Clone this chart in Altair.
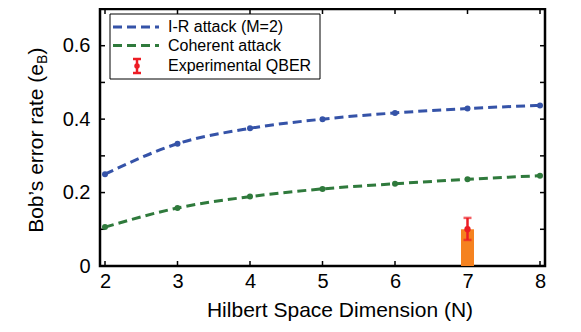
import altair as alt
import pandas as pd

# ---- data ----
N = [2, 3, 4, 5, 6, 7, 8]
ir_attack = [0.25, 0.333, 0.375, 0.400, 0.417, 0.429, 0.4375]
coherent = [0.106, 0.158, 0.189, 0.210, 0.224, 0.236, 0.246]
exp_N = [7]
exp_qber = [0.100]
exp_lo = [0.071]
exp_hi = [0.131]
x_ticks = [2, 3, 4, 5, 6, 7, 8]
y_ticks = [0.0, 0.1, 0.2, 0.3, 0.4, 0.5, 0.6, 0.7]
y_labels = [0.0, 0.2, 0.4, 0.6]
legend_labels = ["I-R attack (M=2)", "Coherent attack", "Experimental QBER"]
x_title = "Hilbert Space Dimension (N)"
y_title_main = "Bob\u2019s error rate (e"
y_title_sub = "B"
y_title_end = ")"

# ---- style ----
W, H = 445, 257
BLUE = "#3553a8"
GREEN = "#2f7a3c"
ORANGE = "#f58220"
RED = "#ed1c24"
FONT = "Liberation Sans"

xs = alt.Scale(domain=[2, 8], nice=False, zero=False)
ys = alt.Scale(domain=[0, 0.7], nice=False, zero=False)
XAX = alt.Axis(values=x_ticks, title=None, labelPadding=5, format="d")
YAX = alt.Axis(values=y_labels, title=None, labelPadding=10, format=".1~f")

ir_df = pd.DataFrame({"N": N, "e": ir_attack})
coh_df = pd.DataFrame({"N": N, "e": coherent})
exp_df = pd.DataFrame({"N": exp_N, "q": exp_qber, "lo": exp_lo, "hi": exp_hi})
xt_df = pd.DataFrame({"t": x_ticks})
yt_df = pd.DataFrame({"t": y_ticks})


def one(v):
    return pd.DataFrame({"v": [v]})


layers = []

# frame ticks (inside, on all four sides)
layers.append(alt.Chart(xt_df).mark_rule(color="black", strokeWidth=1.5).encode(
    x=alt.X("t:Q", scale=xs, axis=XAX), y=alt.value(H), y2=alt.value(H - 5)))
layers.append(alt.Chart(xt_df).mark_rule(color="black", strokeWidth=1.5).encode(
    x=alt.X("t:Q", scale=xs, axis=XAX), y=alt.value(0), y2=alt.value(5)))
layers.append(alt.Chart(yt_df).mark_rule(color="black", strokeWidth=1.5).encode(
    y=alt.Y("t:Q", scale=ys, axis=YAX), x=alt.value(0), x2=alt.value(5)))
layers.append(alt.Chart(yt_df).mark_rule(color="black", strokeWidth=1.5).encode(
    y=alt.Y("t:Q", scale=ys, axis=YAX), x=alt.value(W), x2=alt.value(W - 5)))

# experimental bar + error bar
layers.append(alt.Chart(exp_df).mark_bar(size=13, color=ORANGE).encode(
    x=alt.X("N:Q", scale=xs, axis=XAX), y=alt.Y("q:Q", scale=ys, axis=YAX)))
layers.append(alt.Chart(exp_df).mark_rule(color=RED, strokeWidth=2.5).encode(
    x=alt.X("N:Q", scale=xs, axis=XAX), y=alt.Y("lo:Q", scale=ys, axis=YAX), y2="hi:Q"))
for col in ["lo", "hi"]:
    layers.append(alt.Chart(exp_df).mark_tick(orient="horizontal", size=8, thickness=2.5, color=RED).encode(
        x=alt.X("N:Q", scale=xs, axis=XAX), y=alt.Y(f"{col}:Q", scale=ys, axis=YAX)))
layers.append(alt.Chart(exp_df).mark_circle(size=40, color=RED, opacity=1).encode(
    x=alt.X("N:Q", scale=xs, axis=XAX), y=alt.Y("q:Q", scale=ys, axis=YAX)))

# theory curves
for df, col in [(ir_df, BLUE), (coh_df, GREEN)]:
    layers.append(alt.Chart(df).mark_line(color=col, strokeWidth=3, strokeDash=[9, 5],
                                          interpolate="monotone").encode(
        x=alt.X("N:Q", scale=xs, axis=XAX), y=alt.Y("e:Q", scale=ys, axis=YAX)))
    layers.append(alt.Chart(df).mark_circle(color=col, size=36, opacity=1).encode(
        x=alt.X("N:Q", scale=xs, axis=XAX), y=alt.Y("e:Q", scale=ys, axis=YAX)))

# legend
LX0, LX1, LY0, LY1 = 10, 220, 5, 70
rows = [18, 36.5, 57]
layers.append(alt.Chart(one(0)).mark_rect(fill="white", stroke="black", strokeWidth=1).encode(
    x=alt.value(LX0), x2=alt.value(LX1), y=alt.value(LY0), y2=alt.value(LY1)))
for r, col in zip(rows[:2], [BLUE, GREEN]):
    layers.append(alt.Chart(one(0)).mark_rule(color=col, strokeWidth=3, strokeDash=[9, 5]).encode(
        x=alt.value(13), x2=alt.value(59), y=alt.value(r)))
ry = rows[2]
layers.append(alt.Chart(one(0)).mark_rule(color=RED, strokeWidth=2.5).encode(
    x=alt.value(37), y=alt.value(ry - 7), y2=alt.value(ry + 7)))
for dy in (-7, 7):
    layers.append(alt.Chart(one(0)).mark_rule(color=RED, strokeWidth=2.5).encode(
        x=alt.value(33), x2=alt.value(41), y=alt.value(ry + dy)))
layers.append(alt.Chart(one(0)).mark_circle(color=RED, size=30, opacity=1).encode(
    x=alt.value(37), y=alt.value(ry)))
for r, lab in zip(rows, legend_labels):
    layers.append(alt.Chart(one(lab)).mark_text(align="left", baseline="middle", fontSize=16,
                                                font=FONT, color="black").encode(
        x=alt.value(68), y=alt.value(r), text="v:N"))

# axis titles (manual, to allow the subscript)
layers.append(alt.Chart(one(x_title)).mark_text(align="center", baseline="middle", fontSize=21,
                                              font=FONT, color="black").encode(
    x=alt.value(240), y=alt.value(302), text="v:N"))
layers.append(alt.Chart(one(y_title_main)).mark_text(align="right", baseline="alphabetic", angle=270,
                                                   fontSize=21, font=FONT, color="black").encode(
    x=alt.value(-57), y=alt.value(55), text="v:N"))
layers.append(alt.Chart(one(y_title_sub)).mark_text(align="left", baseline="alphabetic", angle=270,
                                                  fontSize=14, font=FONT, color="black").encode(
    x=alt.value(-53), y=alt.value(55), text="v:N"))
layers.append(alt.Chart(one(y_title_end)).mark_text(align="left", baseline="alphabetic", angle=270,
                                                  fontSize=21, font=FONT, color="black").encode(
    x=alt.value(-57), y=alt.value(45.5), text="v:N"))

chart = alt.layer(*layers).properties(
    width=W, height=H,
    autosize=alt.AutoSizeParams(type="none"),
    padding={"left": 92, "top": 1, "right": 28, "bottom": 58},
).configure_view(stroke="black", strokeWidth=2.5).configure_axis(
    grid=False, domain=False, ticks=False, labelFont=FONT, labelFontSize=20, labelColor="black"
)

chart.save("out.html", embed_options={"renderer": "svg", "actions": False})
